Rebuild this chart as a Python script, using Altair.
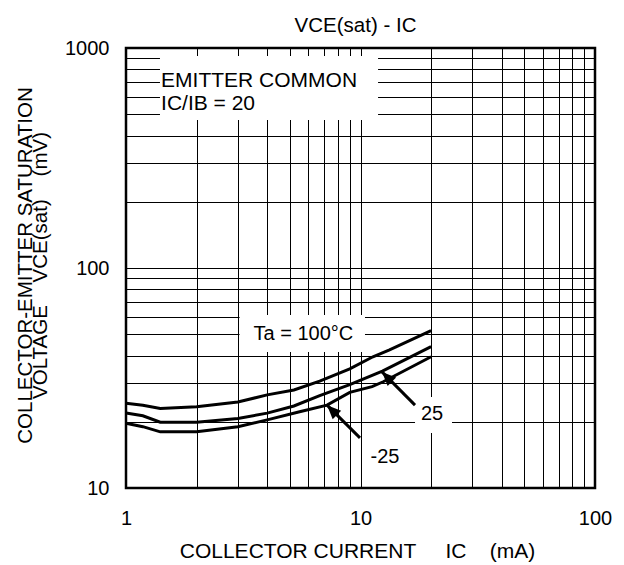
import altair as alt
import pandas as pd

FONT = "Liberation Sans"
NB = "\u00a0"

# Curves: collector current IC (mA) vs VCE(sat) (mV)
ic_100 = [1.0, 1.18, 1.4, 2.0, 3.0, 4.0, 5.2, 6.7, 9.0, 11.3, 13.3, 20]
v_100 = [24.3, 23.8, 23.0, 23.4, 24.6, 26.5, 27.9, 30.6, 34.8, 39.5, 42.4, 51.9]
ic_25 = [1.0, 1.18, 1.4, 2.0, 3.0, 4.0, 5.2, 6.7, 9.0, 12.4, 20]
v_25 = [21.9, 21.3, 19.9, 19.9, 20.7, 21.9, 23.6, 26.3, 29.5, 34.0, 43.9]
ic_m25 = [1.0, 1.18, 1.4, 2.0, 3.0, 4.0, 5.5, 7.2, 9.0, 11.2, 12.5, 20]
v_m25 = [19.7, 19.0, 18.0, 18.0, 19.0, 20.4, 22.2, 23.8, 27.2, 28.9, 30.4, 39.5]

x_grid = [1, 2, 3, 4, 5, 6, 7, 8, 9, 10, 20, 30, 40, 50, 60, 70, 80, 90, 100]
y_grid = [10, 20, 30, 40, 50, 60, 70, 80, 90, 100, 200, 300, 400, 500, 600, 700, 800, 900, 1000]

# annotation label boxes (data coords)
box_x0 = [1.396, 3.05, 17.08]
box_x1 = [11.88, 10.45, 24.56]
box_y0 = [471, 41.5, 17.8]
box_y1 = [919, 61.1, 25.9]

# arrows: tail -> tip
arr_x_tail = [17.08, 9.95]
arr_y_tail = [23.8, 16.9]
arr_x_tip = [12.35, 7.2]
arr_y_tip = [33.7, 23.8]

rows = []
for t, xv, yv in [("100", ic_100, v_100), ("25", ic_25, v_25), ("-25", ic_m25, v_m25)]:
    for a, b in zip(xv, yv):
        rows.append({"ic": a, "v": b, "ta": t})
curves = pd.DataFrame(rows)
boxes = pd.DataFrame({"ic": box_x0, "x1": box_x1, "v": box_y0, "y1": box_y1})
arrows = pd.DataFrame({"ic": arr_x_tail, "v": arr_y_tail, "xh": arr_x_tip, "yh": arr_y_tip})
heads_df = pd.DataFrame({"ic": arr_x_tip, "v": arr_y_tip})

labels = pd.DataFrame({
    "ic": [1.411, 5.71, 20.18, 12.72],
    "v": [664.8, 47.1, 20.4, 13.0],
    "txt": ["EMITTER COMMON\nIC/IB = 20", "Ta = 100°C", "25", "-25"],
})

xs = alt.Scale(type="log", domain=[1, 100], nice=False)
ys = alt.Scale(type="log", domain=[10, 1000], nice=False)

x_axis = alt.Axis(
    values=x_grid, grid=True, gridColor="#000", gridWidth=1, domain=False,
    ticks=False, tickSize=0, labelFlush=False, labelOverlap=False,
    labelExpr="(datum.value == 1 || datum.value == 10 || datum.value == 100) ? format(datum.value, 'd') : ''",
    labelFont=FONT, labelFontSize=20, labelColor="#000", labelPadding=20,
    title="COLLECTOR CURRENT" + NB * 5 + "IC" + NB * 4 + "(mA)", titleFont=FONT, titleFontSize=21,
    titleFontWeight="normal", titleColor="#000", titleX=231, titleY=69,
    titleBaseline="alphabetic", titleAlign="center",
)
y_axis = alt.Axis(
    values=y_grid, grid=True, gridColor="#000", gridWidth=1, domain=False,
    ticks=False, tickSize=0, labelFlush=False, labelOverlap=False,
    labelExpr="(datum.value == 10 || datum.value == 100 || datum.value == 1000) ? format(datum.value, 'd') : ''",
    labelFont=FONT, labelFontSize=20, labelColor="#000", labelPadding=17,
    title=["COLLECTOR-EMITTER SATURATION", "VOLTAGE" + NB * 4 + "VCE(sat)" + NB * 4 + "(mV)"],
    titleFont=FONT, titleFontSize=20.5, titleFontWeight="normal", titleColor="#000",
    titleAngle=270, titleX=-95, titleY=217, titleBaseline="alphabetic",
    titleAlign="center", titleLineHeight=15,
)

X = alt.X("ic:Q", scale=xs, axis=x_axis)
Y = alt.Y("v:Q", scale=ys, axis=y_axis)

rects = alt.Chart(boxes).mark_rect(color="white", opacity=1).encode(
    x=X, x2="x1:Q", y=Y, y2="y1:Q",
)
lines = alt.Chart(curves).mark_line(color="#000", strokeWidth=3).encode(
    x=X, y=Y, detail="ta:N",
)
shafts = alt.Chart(arrows).mark_rule(color="#000", strokeWidth=3).encode(
    x=X, x2="xh:Q", y=Y, y2="yh:Q",
)
heads = alt.Chart(heads_df).mark_point(
    shape="M0,0L-0.43,1L0.43,1Z", filled=True, color="#000", opacity=1,
    size=784, angle=315, strokeWidth=0,
).encode(x=X, y=Y)

text_left = alt.Chart(labels.iloc[[0]]).mark_text(
    font=FONT, fontSize=21, color="#000", align="left", baseline="alphabetic",
    lineBreak="\n", lineHeight=23.3,
).encode(x=X, y=Y, text="txt:N")
text_center = alt.Chart(labels.iloc[1:]).mark_text(
    font=FONT, fontSize=20, color="#000", align="center", baseline="alphabetic",
).encode(x=X, y=Y, text="txt:N")

chart = alt.layer(rects, lines, shafts, heads, text_left, text_center).properties(
    width=469, height=440,
    padding={"left": 118, "top": 40, "right": 20, "bottom": 74},
    autosize=alt.AutoSizeParams(type="none"),
    background="white",
    title=alt.TitleParams(
        "VCE(sat) - IC", font=FONT, fontSize=20.5, fontWeight="normal", color="#000",
        anchor="middle", baseline="alphabetic", offset=16, dy=30, dx=-5,
    ),
).configure_view(stroke="#000", strokeWidth=2.5)

chart.save("out.html", embed_options={"renderer": "svg", "actions": False})
